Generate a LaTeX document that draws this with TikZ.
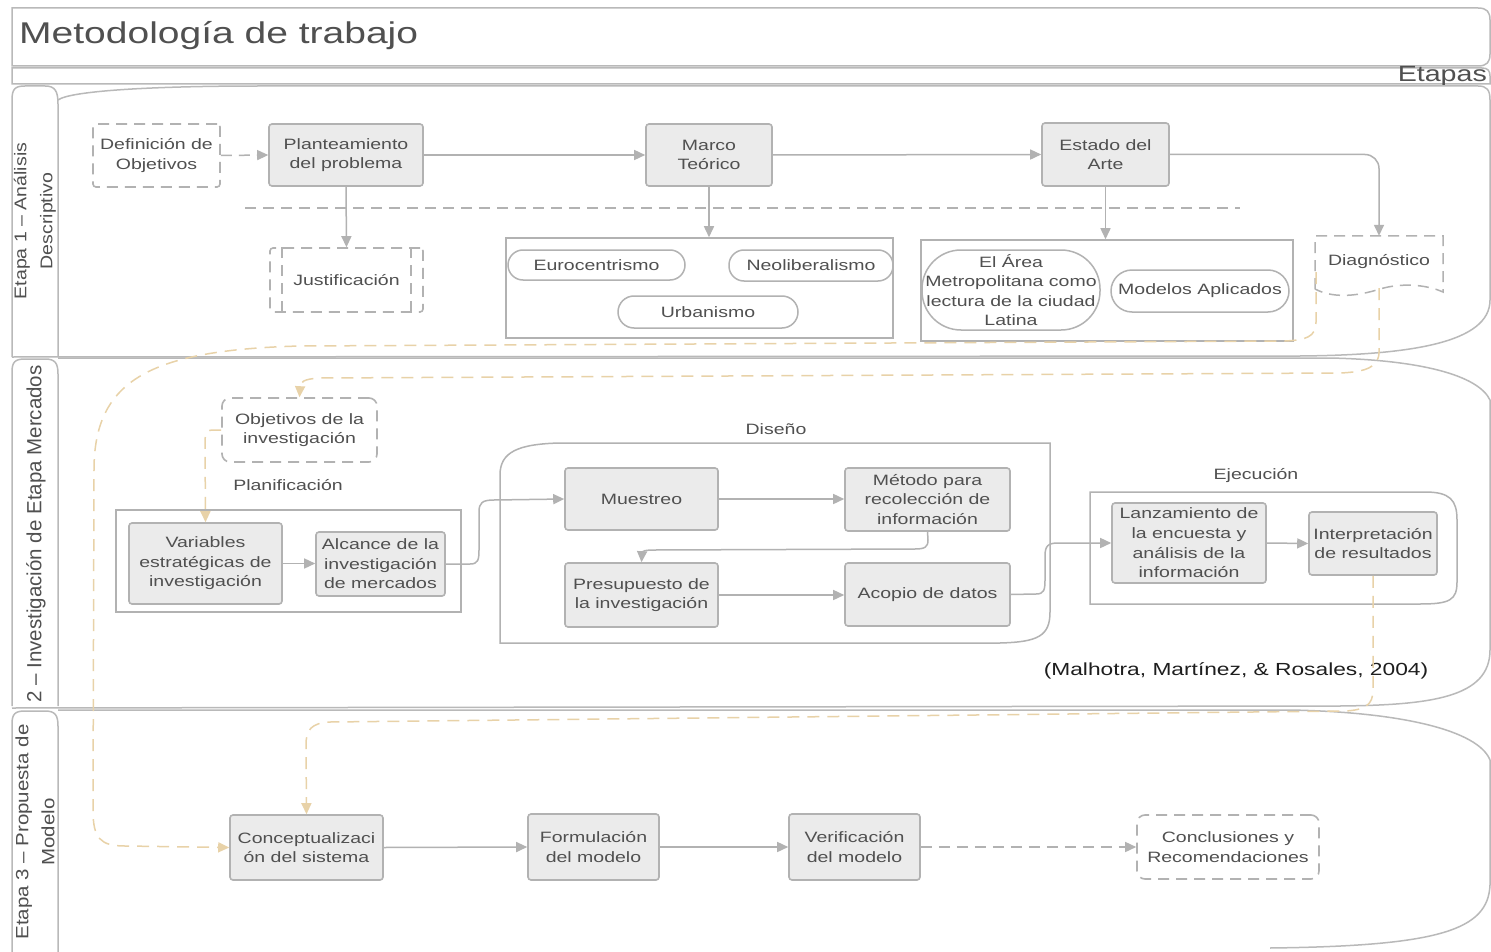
\documentclass[tikz,border=0pt]{standalone}
\usepackage{fontspec}
\setmainfont{Liberation Sans}[FakeStretch=1.3]
\newfontfamily\plainfont{Liberation Sans}
\newfontfamily\lanefont{Liberation Sans}[FakeStretch=1.15]
\usetikzlibrary{arrows.meta}
\definecolor{bcol}{RGB}{178,178,178}
\definecolor{fcol}{RGB}{235,235,235}
\definecolor{tcol}{RGB}{80,80,80}
\definecolor{ocol}{RGB}{232,210,168}
\definecolor{frcol}{RGB}{185,185,185}
\definecolor{citecol}{RGB}{30,30,30}
\begin{document}
\begin{tikzpicture}[x=1pt,y=-1pt,
 nfont/.style={font=\fontsize{15}{19.6}\selectfont},
 box/.style={draw=bcol, fill=fcol, line width=1.6pt, rounded corners=3pt, text=tcol, align=center, inner sep=0pt, nfont},
 dbox/.style={box, fill=none, dash pattern=on 11pt off 7pt},
 oval/.style={draw=bcol, line width=1.5pt, text=tcol, align=center, inner sep=0pt, nfont},
 grp/.style={draw=bcol, line width=1.5pt},
 conn/.style={draw=bcol, line width=1.5pt, -{Triangle[length=11pt,width=10pt]}},
 dconn/.style={conn, dash pattern=on 11pt off 7pt},
 dline/.style={draw=bcol, line width=1.5pt, dash pattern=on 11pt off 7pt},
 oconn/.style={draw=ocol, line width=1.5pt, dash pattern=on 12pt off 8pt, -{Triangle[length=11pt,width=10pt]}},
 framel/.style={draw=frcol, line width=1.5pt},
 lbl/.style={text=tcol, nfont, inner sep=0pt},
]
\fill[white] (0,0) rectangle (1491,952);
\useasboundingbox (0,0) rectangle (1491,952);

% ---------- frame ----------
\draw[framel] (12,8) -- (1478,8) .. controls (1487,8) and (1490,12) .. (1490,20) -- (1490,54) .. controls (1490,62) and (1487,66) .. (1478,66) -- (12,66) -- cycle;
\node[anchor=west, text=tcol, font=\fontsize{30}{36}\selectfont, inner sep=0pt] (title) at (19,36) {Metodología de trabajo};
\draw[framel] (12,68) -- (1482,68) .. controls (1488,68) and (1490,71) .. (1490,76) -- (1490,84) -- (12,84) -- cycle;
\node[anchor=base east, text=tcol, font=\fontsize{22}{26}\selectfont, inner sep=0pt] (etapas) at (1487,82) {Etapas};

% row 1
\draw[framel] (12,357) -- (12,100) .. controls (12,89) and (15,86) .. (25,86) -- (45,86) .. controls (55,86) and (58,91) .. (58,104) -- (58,357);
\draw[framel] (58,100) .. controls (70,91) and (150,86) .. (260,86) -- (1478,86) .. controls (1487,86) and (1490,90) .. (1490,100) -- (1490,300) .. controls (1490,343) and (1410,355) .. (1300,356) -- (12,357);
\node[rotate=90, align=center, text=tcol, font=\lanefont\fontsize{17}{26}\selectfont] (lab1) at (35,221) {Etapa 1 – Análisis\\Descriptivo};
% row 2
\draw[framel] (12,706) -- (12,372) .. controls (12,362) and (15,359) .. (25,359) -- (45,359) .. controls (55,359) and (58,363) .. (58,374) -- (58,706);
\draw[framel] (58,358) -- (1330,358) .. controls (1420,360) and (1478,375) .. (1490,400) -- (1490,650) .. controls (1490,698) and (1430,705) .. (1340,706) -- (12,708);
\node[rotate=90, text=tcol, font=\plainfont\fontsize{20.5}{24}\selectfont] (lab2) at (36,534) {2 – Investigación de Etapa Mercados};
% row 3
\draw[framel] (12,952) -- (12,724) .. controls (12,714) and (15,711) .. (25,711) -- (45,711) .. controls (55,711) and (58,715) .. (58,726) -- (58,952);
\draw[framel] (58,710) -- (1290,710) .. controls (1400,712) and (1478,730) .. (1490,760) -- (1490,885) .. controls (1488,930) and (1440,946) .. (1270,948);
\node[rotate=90, align=center, text=tcol, font=\lanefont\fontsize{17.8}{26}\selectfont] (lab3) at (35,832) {Etapa 3 – Propuesta de\\Modelo};

% ---------- row 1 nodes ----------
\node[dbox, minimum width=127pt, minimum height=63pt] (defobj) at (156.5,155.5) {Definición de\\Objetivos};
\node[box, minimum width=154pt, minimum height=62pt] (plant) at (346,155) {Planteamiento\\del problema};
\node[box, minimum width=126pt, minimum height=62pt] (marco) at (709,155) {Marco\\Teórico};
\node[box, minimum width=127pt, minimum height=63pt] (estado) at (1105.5,154.5) {Estado del\\Arte};
\draw[dline] (245,208) -- (1240,208);

\node[dbox, minimum width=153pt, minimum height=64pt] (just) at (346.5,280) {Justificación};
\draw[dline] ([xshift=13pt]just.north west) -- ([xshift=13pt]just.south west);
\draw[dline] ([xshift=-13pt]just.north east) -- ([xshift=-13pt]just.south east);

\node[grp, minimum width=387pt, minimum height=100pt, inner sep=0pt] (grpM) at (699.5,288) {};
\node[oval, rounded corners=15pt, minimum width=177pt, minimum height=30pt] (euro) at (596.5,265) {Eurocentrismo};
\node[oval, rounded corners=15pt, minimum width=164pt, minimum height=31pt] (neo) at (811,265.5) {Neoliberalismo};
\node[oval, rounded corners=16pt, minimum width=180pt, minimum height=32pt] (urb) at (708,312) {Urbanismo};

\node[grp, minimum width=372pt, minimum height=101pt, inner sep=0pt] (grpE) at (1107,290.5) {};
\node[oval, rounded corners=39pt, minimum width=178pt, minimum height=80pt] (area) at (1011,290) {El Área\\Metropolitana como\\lectura de la ciudad\\Latina};
\node[oval, rounded corners=21pt, minimum width=178pt, minimum height=42pt] (modelos) at (1200,291) {Modelos Aplicados};

\node[lbl, minimum width=128pt, minimum height=52pt] (diag) at (1379,262) {Diagnóstico};
\draw[dline] (1315,289) -- (1315,236) -- (1443,236) -- (1443,292) .. controls (1425,284) and (1400,283) .. (1380,289) .. controls (1355,297) and (1332,298) .. (1315,289);

\draw[dconn] (defobj.east) -- (plant.west);
\draw[conn] (plant.east) -- (marco.west);
\draw[conn] (marco.east) -- (estado.west);
\draw[conn, rounded corners=14pt] (estado.east) -| (diag.north);
\draw[conn] (plant.south) -- (just.north);
\draw[conn] (marco.south) -- (marco.south |- grpM.north);
\draw[conn] (estado.south) -- (estado.south |- grpE.north);

% ---------- row 2 nodes ----------
\node[dbox, rounded corners=8pt, minimum width=155pt, minimum height=64pt] (objinv) at (299.5,430) {Objetivos de la\\investigación};
\node[lbl] (tplan) at (288,485) {Planificación};
\node[grp, minimum width=345pt, minimum height=102pt, inner sep=0pt] (grpP) at (288.5,561) {};
\node[box, minimum width=153pt, minimum height=81pt] (vari) at (205.5,563.5) {Variables\\estratégicas de\\investigación};
\node[box, minimum width=129pt, minimum height=64pt] (alc) at (380.5,564) {Alcance de la\\investigación\\de mercados};

\node[lbl] (tdis) at (776,429) {Diseño};
\draw[grp] (500,643) -- (500,475) .. controls (500,452) and (518,444) .. (560,443) -- (1050,443) -- (1050,612) .. controls (1050,636) and (1038,642) .. (1000,643) -- cycle;
\node[box, minimum width=153pt, minimum height=62pt] (mues) at (641.5,499) {Muestreo};
\node[box, minimum width=165pt, minimum height=63pt] (meto) at (927.5,499.5) {Método para\\recolección de\\información};
\node[box, minimum width=153pt, minimum height=64pt] (presu) at (641.5,595) {Presupuesto de\\la investigación};
\node[box, minimum width=165pt, minimum height=63pt] (acop) at (927.5,594.5) {Acopio de datos};

\node[lbl] (tejec) at (1256,476) {Ejecución};
\draw[grp] (1090,604) -- (1090,492) -- (1425,492) .. controls (1450,492) and (1457,500) .. (1457,520) -- (1457,582) .. controls (1457,600) and (1450,604) .. (1420,604) -- cycle;
\node[box, minimum width=154pt, minimum height=80pt] (lanz) at (1189,543) {Lanzamiento de\\la encuesta y\\análisis de la\\información};
\node[box, minimum width=128pt, minimum height=63pt] (interp) at (1373,543.5) {Interpretación\\de resultados};

\node[text=citecol, font=\fontsize{17.5}{20}\selectfont, inner sep=0pt] (cite) at (1236,671) {(Malhotra, Martínez, \& Rosales, 2004)};

\draw[conn] (vari.east) -- (vari.east -| alc.west);
\draw[conn] (alc.east) -- (470,564) .. controls (478,564) and (479,560) .. (479,550) -- (479,512) .. controls (479,503) and (482,500) .. (494,500) -- (mues.west);
\draw[conn] (mues.east) -- (mues.east -| meto.west);
\draw[conn] (meto.south) -- (928,540) .. controls (928,547) and (925,549) .. (915,549) -- (655,550) .. controls (645,550) and (642,551) .. (642,553) -- (presu.north);
\draw[conn] (presu.east) -- (presu.east -| acop.west);
\draw[conn] (acop.east) -- (1036,594) .. controls (1044,594) and (1045,590) .. (1045,580) -- (1045,556) .. controls (1045,546) and (1048,543) .. (1058,543) -- (lanz.west);
\draw[conn] (lanz.east) -- (interp.west);

% ---------- row 3 nodes ----------
\node[box, minimum width=153pt, minimum height=65pt] (conc) at (306.5,847.5) {Conceptualizaci\\ón del sistema};
\node[box, minimum width=131pt, minimum height=66pt] (form) at (593.5,847) {Formulación\\del modelo};
\node[box, minimum width=131pt, minimum height=66pt] (veri) at (854.5,847) {Verificación\\del modelo};
\node[dbox, rounded corners=8pt, minimum width=182pt, minimum height=64pt] (concl) at (1228,847) {Conclusiones y\\Recomendaciones};

\draw[conn] (conc.east) -- (form.west);
\draw[conn] (form.east) -- (veri.west);
\draw[dconn] (veri.east) -- (concl.west);

% ---------- orange connectors ----------
\coordinate (o1) at (1316,272);
\draw[oconn] (o1) -- (1316,322) .. controls (1316,337) and (1306,340) .. (1285,341) -- (300,346) .. controls (150,350) and (94,380) .. (94,470) -- (93,810) .. controls (93,838) and (100,846) .. (125,846) -- (conc.west);
\draw[oconn] (diag.south) -- (1379,352) .. controls (1379,367) and (1366,372) .. (1340,373) -- (320,378) .. controls (303,379) and (300,382) .. (300,388) -- (objinv.north);
\draw[oconn] (objinv.west) -- (212,430) .. controls (207,430) and (205,433) .. (205,442) -- (vari.north);
\draw[oconn] (interp.south) -- (1373,690) .. controls (1373,705) and (1365,710) .. (1345,711) -- (330,722) .. controls (311,723) and (306,730) .. (306,745) -- (conc.north);
\end{tikzpicture}
\end{document}
